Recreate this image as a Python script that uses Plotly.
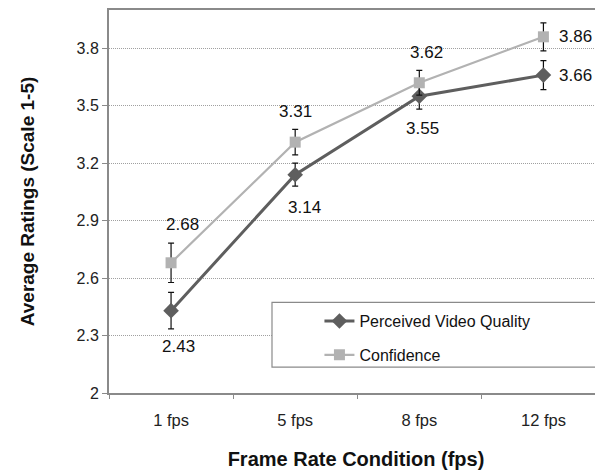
import plotly.graph_objects as go

categories = ["1 fps", "5 fps", "8 fps", "12 fps"]
pvq = [2.43, 3.14, 3.55, 3.66]
pvq_err = [0.095, 0.06, 0.068, 0.076]
conf = [2.68, 3.31, 3.62, 3.86]
conf_err = [0.103, 0.067, 0.065, 0.073]
pvq_label_shift = [(7, -36), (9, -33), (3, -32), (32, 0)]
conf_label_shift = [(11, 38), (0, 31), (7, 30), (32, 0)]

FONT = "Liberation Sans, Arial, sans-serif"
fig = go.Figure()
fig.add_trace(go.Scatter(
    x=categories, y=pvq, mode="lines+markers", name="Perceived Video Quality",
    line=dict(color="#5e5e5e", width=3),
    marker=dict(symbol="diamond", size=12, color="#5e5e5e"),
    error_y=dict(type="data", array=pvq_err, color="#111111", thickness=1.2, width=3),
    legendgroup="a",
))
fig.add_trace(go.Scatter(
    x=categories, y=conf, mode="lines+markers", name="Confidence",
    line=dict(color="#b2b2b2", width=2.2),
    marker=dict(symbol="square", size=11, color="#b2b2b2"),
    error_y=dict(type="data", array=conf_err, color="#111111", thickness=1.2, width=3),
    legendgroup="b",
))

annotations = []
for cat, v, (dx, dy) in zip(categories, pvq, pvq_label_shift):
    annotations.append(dict(x=cat, y=v, text=f"{v:.2f}", showarrow=False,
                            xshift=dx, yshift=dy, font=dict(size=17, color="#111111", family=FONT)))
for cat, v, (dx, dy) in zip(categories, conf, conf_label_shift):
    annotations.append(dict(x=cat, y=v, text=f"{v:.2f}", showarrow=False,
                            xshift=dx, yshift=dy, font=dict(size=17, color="#111111", family=FONT)))

fig.update_layout(
    width=595, height=465,
    margin=dict(l=101, r=0, t=0, b=80),
    paper_bgcolor="white", plot_bgcolor="white",
    font=dict(family=FONT, size=16, color="#222222"),
    annotations=annotations,
    showlegend=True,
    legend=dict(x=0.426, y=0.232, xanchor="left", yanchor="top",
                bgcolor="rgba(0,0,0,0)", font=dict(size=16, color="#111111"),
                tracegroupgap=10),
    shapes=[dict(type="rect", xref="paper", yref="paper",
                 x0=(272 - 109) / 494, x1=(597 - 109) / 494,
                 y0=(393 - 367) / 385, y1=(393 - 302) / 385,
                 line=dict(color="#8a8a8a", width=1.2), fillcolor="white", layer="above")],
)
fig.update_xaxes(
    range=[-0.5, 3.48], showline=True, linecolor="#8a8a8a", linewidth=2, mirror=True,
    ticks="outside", tickson="boundaries", ticklen=4, tickcolor="#8a8a8a",
    showgrid=False, ticklabelstandoff=11, tickfont=dict(size=16.5),
    title=dict(text="<b>Frame Rate Condition (fps)</b>", font=dict(size=20, color="#111111"), standoff=24),
)
fig.update_yaxes(
    range=[2, 4.0], tickvals=[2, 2.3, 2.6, 2.9, 3.2, 3.5, 3.8],
    ticktext=["2", "2.3", "2.6", "2.9", "3.2", "3.5", "3.8"],
    showline=True, linecolor="#8a8a8a", linewidth=2,
    ticks="outside", ticklen=5, tickcolor="#8a8a8a",
    showgrid=True, gridcolor="#a0a0a0", griddash="1px,1px", gridwidth=1,
    zeroline=False,
    title=dict(text="<b>Average Ratings (Scale 1-5)</b>", font=dict(size=19, color="#111111"), standoff=37),
)
fig.write_html("out.html")
